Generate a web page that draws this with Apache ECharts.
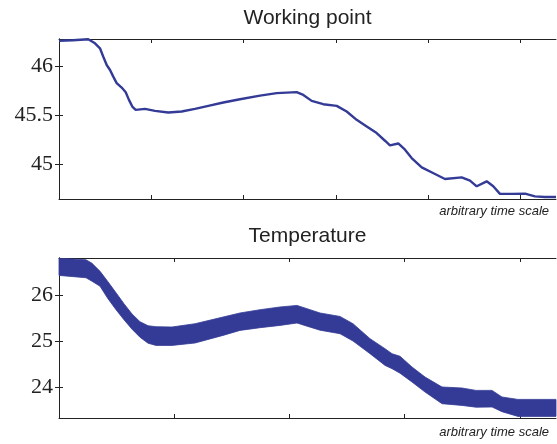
<!DOCTYPE html>
<html>
<head>
<meta charset="utf-8">
<script src="https://cdn.jsdelivr.net/npm/echarts@6/dist/echarts.min.js"></script>
<style>
html,body{margin:0;padding:0;background:#fff;}
#c{width:557px;height:444px;}
</style>
</head>
<body>
<div id="c"></div>
<script>
// Working point (top panel)
const wpX = [0, 0.15, 0.317, 0.390, 0.444, 0.480, 0.517, 0.553, 0.588, 0.625, 0.679, 0.723, 0.758, 0.794, 0.831, 0.932, 1.040, 1.184, 1.329, 1.473, 1.618, 1.780, 1.961, 2.178, 2.359, 2.575, 2.647, 2.738, 2.863, 3.009, 3.117, 3.225, 3.334, 3.442, 3.532, 3.586, 3.676, 3.749, 3.821, 3.930, 4.074, 4.182, 4.363, 4.453, 4.526, 4.634, 4.705, 4.778, 4.905, 5.049, 5.157, 5.265, 5.385];
const wpY = [46.265, 46.27, 46.280, 46.239, 46.188, 46.102, 46.017, 45.966, 45.898, 45.831, 45.786, 45.739, 45.660, 45.592, 45.558, 45.568, 45.548, 45.531, 45.541, 45.568, 45.599, 45.633, 45.667, 45.704, 45.729, 45.739, 45.711, 45.650, 45.616, 45.599, 45.541, 45.456, 45.388, 45.320, 45.242, 45.194, 45.214, 45.150, 45.065, 44.969, 44.902, 44.851, 44.867, 44.834, 44.776, 44.827, 44.776, 44.698, 44.698, 44.701, 44.673, 44.667, 44.667];

// Temperature (bottom panel): lower and upper envelope of the noisy trace
const tX = [0, 0.234, 0.286, 0.356, 0.425, 0.495, 0.564, 0.634, 0.703, 0.773, 0.842, 0.981, 1.181, 1.424, 1.571, 1.745, 1.918, 2.066, 2.153, 2.266, 2.439, 2.552, 2.700, 2.830, 2.891, 2.960, 3.064, 3.177, 3.325, 3.498, 3.620, 3.759, 3.845, 3.984, 4.314];
const tHigh = [26.81, 26.779, 26.703, 26.528, 26.299, 26.059, 25.819, 25.594, 25.426, 25.338, 25.317, 25.310, 25.382, 25.528, 25.616, 25.688, 25.747, 25.782, 25.710, 25.616, 25.541, 25.382, 25.055, 24.836, 24.727, 24.672, 24.437, 24.218, 24.000, 23.978, 23.926, 23.926, 23.782, 23.729, 23.729];
const tLow = [26.437, 26.386, 26.310, 26.201, 25.928, 25.688, 25.469, 25.262, 25.087, 24.956, 24.908, 24.908, 24.961, 25.127, 25.236, 25.295, 25.345, 25.397, 25.328, 25.240, 25.164, 25.004, 24.727, 24.472, 24.400, 24.301, 24.109, 23.891, 23.635, 23.598, 23.559, 23.563, 23.461, 23.358, 23.358];

// Tick values
const wpYTicks = [45, 45.5, 46];
const wpXTicks = [1, 2, 3, 4, 5];
const tYTicks = [24, 25, 26];
const tXTicks = [1, 2, 3, 4];

const lineColor = '#333b96';
const axisColor = '#222';

function xAxis(grid, max, ticks, pos) {
  return {
    type: 'value', gridIndex: grid, min: 0, max: max, position: pos,
    axisLine: { show: true, lineStyle: { color: axisColor, width: 1 } },
    axisTick: { show: true, inside: true, length: 4, customValues: ticks, lineStyle: { color: axisColor } },
    axisLabel: { show: false, customValues: ticks },
    splitLine: { show: false }
  };
}
function yAxis(grid, min, max, ticks, pos, labels) {
  return {
    type: 'value', gridIndex: grid, min: min, max: max, position: pos,
    axisLine: { show: true, lineStyle: { color: axisColor, width: 1 } },
    axisTick: { show: true, inside: true, length: 4, customValues: ticks, lineStyle: { color: axisColor } },
    axisLabel: { show: labels, customValues: ticks, margin: 6, fontFamily: 'Liberation Serif', fontSize: 22, color: '#222' },
    splitLine: { show: false }
  };
}

const chart = echarts.init(document.getElementById('c'), null, { renderer: 'canvas' });
chart.setOption({
  animation: false,
  backgroundColor: '#fff',
  grid: [
    { left: 59, top: 39, width: 497, height: 160 },
    { left: 59, top: 258, width: 497, height: 160 }
  ],
  xAxis: [
    xAxis(0, 5.385, wpXTicks, 'bottom'),
    xAxis(0, 5.385, wpXTicks, 'top'),
    xAxis(1, 4.314, tXTicks, 'bottom'),
    xAxis(1, 4.314, tXTicks, 'top')
  ],
  yAxis: [
    yAxis(0, 44.646, 46.283, wpYTicks, 'left', true),
    yAxis(0, 44.646, 46.283, wpYTicks, 'right', false),
    yAxis(1, 23.323, 26.817, tYTicks, 'left', true),
    yAxis(1, 23.323, 26.817, tYTicks, 'right', false)
  ],
  graphic: [
    { type: 'text', style: { x: 307.5, y: 18, text: 'Working point', textAlign: 'center', textVerticalAlign: 'middle', font: '21px "Liberation Sans", Arial, sans-serif', fill: '#222' } },
    { type: 'text', style: { x: 307.5, y: 236.5, text: 'Temperature', textAlign: 'center', textVerticalAlign: 'middle', font: '21px "Liberation Sans", Arial, sans-serif', fill: '#222' } },
    { type: 'text', style: { x: 549, y: 211, text: 'arbitrary time scale', textAlign: 'right', textVerticalAlign: 'middle', font: 'italic 13px "Liberation Sans", Arial, sans-serif', fill: '#222' } },
    { type: 'text', style: { x: 549, y: 432, text: 'arbitrary time scale', textAlign: 'right', textVerticalAlign: 'middle', font: 'italic 13px "Liberation Sans", Arial, sans-serif', fill: '#222' } }
  ],
  series: [
    {
      type: 'line', xAxisIndex: 0, yAxisIndex: 0, showSymbol: false, symbol: 'none',
      data: wpX.map((x, i) => [x, wpY[i]]),
      lineStyle: { color: lineColor, width: 2.4 }, silent: true
    },
    {
      type: 'custom', xAxisIndex: 2, yAxisIndex: 2, silent: true,
      data: [[tX[0], tLow[0]]],
      renderItem: function (params, api) {
        const pts = [];
        for (let i = 0; i < tX.length; i++) pts.push(api.coord([tX[i], tHigh[i]]));
        for (let i = tX.length - 1; i >= 0; i--) pts.push(api.coord([tX[i], tLow[i]]));
        return {
          type: 'polygon',
          shape: { points: pts },
          style: { fill: lineColor, stroke: lineColor, lineWidth: 0.8 }
        };
      }
    }
  ]
});
</script>
</body>
</html>
